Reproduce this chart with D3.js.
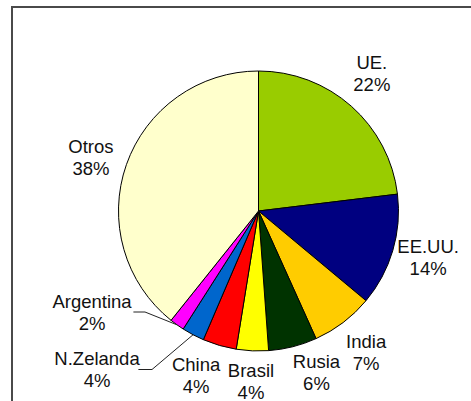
<!DOCTYPE html>
<html>
<head>
<meta charset="utf-8">
<script src="https://cdn.jsdelivr.net/npm/d3@7"></script>
<style>
  body { margin: 0; background: white; }
  svg { display: block; }
</style>
</head>
<body>
<script>
const countries = ["UE.", "EE.UU.", "India", "Rusia", "Brasil", "China", "N.Zelanda", "Argentina", "Otros"]
const shares = [23.1, 13.0, 7.2, 5.6, 3.7, 3.9, 2.6, 1.7, 39.3]
const printed = ["22%", "14%", "7%", "6%", "4%", "4%", "4%", "2%", "38%"]
const sliceColors = ["#99cc00", "#000080", "#ffcc00", "#003300", "#ffff00", "#ff0000", "#0066cc", "#ff00ff", "#ffffcc"]

const [width, height] = [471, 401]
const cx = 258.5, cy = 211, r = 140
const lineGap = 22
// label placement: [angle nudge (deg), radius] around the slice middle
const labelNudge = [[-2, 178], [-1, 176], [0, 178], [-5.5, 172], [0, 171], [4.6, 176], [0, 0], [0, 0], [-1.5, 176]]
// labels pulled out with a leader line: [label center x, label center y, elbow x]
const pulled = {
    "Argentina": [92, 312, 145],
    "N.Zelanda": [97, 369.5, 152]
}

const rows = countries.map((c, i) => ({ name: c, value: shares[i], pct: printed[i], color: sliceColors[i], nudge: labelNudge[i] }))

const svg = d3.select("body").append("svg")
    .attr("width", width)
    .attr("height", height)

// frame (only left and top edges are in view)
svg.append("path")
    .attr("d", `M12,${height} L12,7 L${width},7`)
    .attr("fill", "none")
    .attr("stroke", "#4a4a4a")
    .attr("stroke-width", 2)

const pie = d3.pie().sort(null).value(d => d.value)
const arcs = pie(rows)
const arc = d3.arc().innerRadius(0).outerRadius(r)

const g = svg.append("g").attr("transform", `translate(${cx},${cy})`)

g.selectAll("path")
    .data(arcs)
    .join("path")
        .attr("d", arc)
        .attr("fill", d => d.data.color)
        .attr("stroke", "#000")
        .attr("stroke-width", 1)
        .attr("stroke-linejoin", "round")

const mid = d => (d.startAngle + d.endAngle) / 2
const polar = (a, rad) => [rad * Math.sin(a), -rad * Math.cos(a)]

// leader lines
g.selectAll("polyline")
    .data(arcs.filter(d => pulled[d.data.name]))
    .join("polyline")
        .attr("fill", "none")
        .attr("stroke", "#222")
        .attr("stroke-width", 1)
        .attr("points", d => {
            const p = pulled[d.data.name]
            const [ex, ey] = polar(mid(d), r)
            const ly = p[1] - cy
            const right = p[0] - cx + d.data.name.length * 4.6
            return [[ex, ey], [p[2] - cx, ly], [right, ly]].map(q => q.join(",")).join(" ")
        })

const labels = g.selectAll("text")
    .data(arcs)
    .join("text")
        .attr("text-anchor", "middle")
        .attr("font-family", "'Liberation Sans', Arial, sans-serif")
        .attr("font-size", 18.5)
        .attr("fill", "#111")
        .attr("transform", d => {
            const p = pulled[d.data.name]
            const [dAng, rad] = d.data.nudge
            const [x, y] = p ? [p[0] - cx, p[1] - cy] : polar(mid(d) + dAng * Math.PI / 180, rad)
            return `translate(${x},${y - 4.5})`
        })

labels.append("tspan").attr("x", 0).attr("y", 0).text(d => d.data.name)
labels.append("tspan").attr("x", 0).attr("y", lineGap).text(d => d.data.pct)
</script>
</body>
</html>
